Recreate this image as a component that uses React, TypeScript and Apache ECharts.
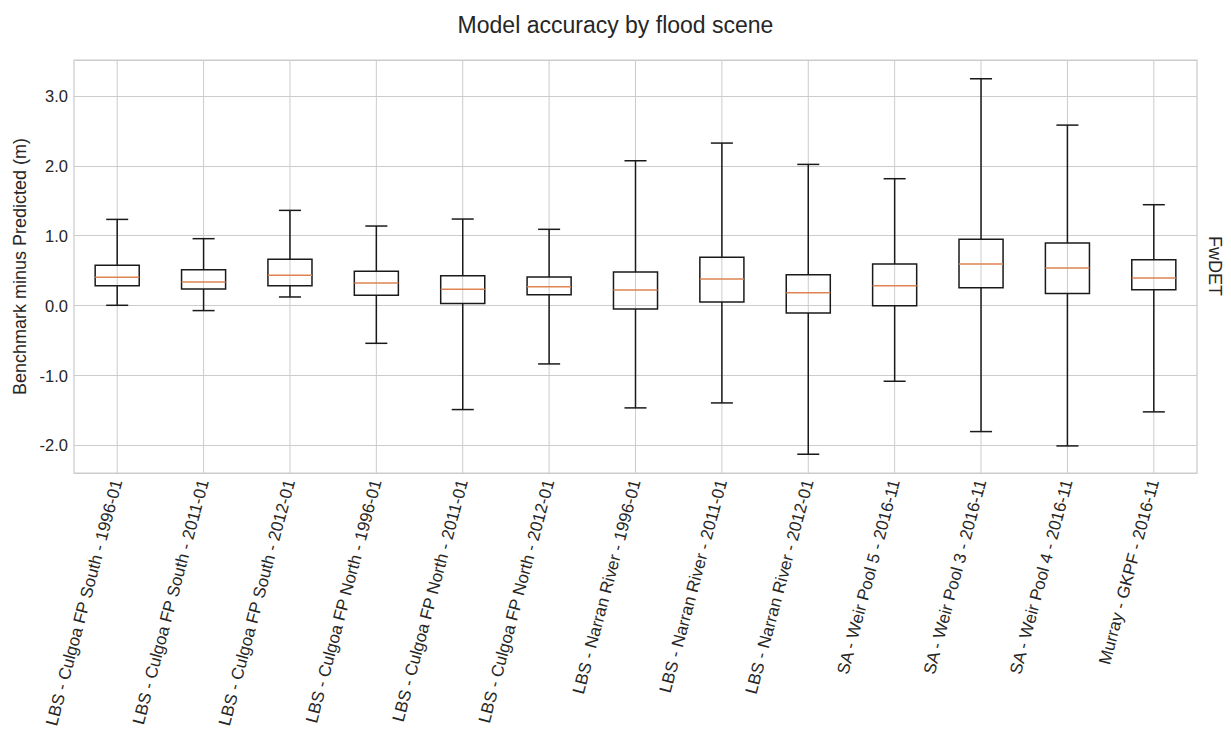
import React, { useEffect, useRef } from "react";
import * as echarts from "echarts";

const categories = [
  "LBS - Culgoa FP South - 1996-01",
  "LBS - Culgoa FP South - 2011-01",
  "LBS - Culgoa FP South - 2012-01",
  "LBS - Culgoa FP North - 1996-01",
  "LBS - Culgoa FP North - 2011-01",
  "LBS - Culgoa FP North - 2012-01",
  "LBS - Narran River - 1996-01",
  "LBS - Narran River - 2011-01",
  "LBS - Narran River - 2012-01",
  "SA - Weir Pool 5 - 2016-11",
  "SA - Weir Pool 3 - 2016-11",
  "SA - Weir Pool 4 - 2016-11",
  "Murray - GKPF - 2016-11",
];

const whiskerLow = [0.005, -0.071, 0.124, -0.539, -1.487, -0.834, -1.463, -1.392, -2.126, -1.082, -1.802, -2.007, -1.52];
const quartile1 = [0.286, 0.238, 0.286, 0.148, 0.029, 0.157, -0.048, 0.052, -0.105, 0.0, 0.257, 0.172, 0.229];
const medians = [0.405, 0.338, 0.434, 0.324, 0.234, 0.272, 0.224, 0.381, 0.186, 0.286, 0.596, 0.539, 0.396];
const quartile3 = [0.577, 0.515, 0.663, 0.491, 0.429, 0.41, 0.481, 0.691, 0.443, 0.596, 0.949, 0.896, 0.658];
const whiskerHigh = [1.234, 0.958, 1.363, 1.139, 1.239, 1.092, 2.073, 2.326, 2.021, 1.816, 3.246, 2.583, 1.444];

const FONT = "'Liberation Sans', Arial, Helvetica, sans-serif";
const TEXT = "#262626";
const GRID = "#cccccc";

export default function App() {
  const ref = useRef<HTMLDivElement>(null);

  useEffect(() => {
    if (!ref.current) return;
    const chart = echarts.init(ref.current, undefined, { renderer: "svg" });

    const rows = categories.map((_, i) => [i, whiskerLow[i], quartile1[i], medians[i], quartile3[i], whiskerHigh[i]]);
    const dMin = Math.min(...whiskerLow);
    const dMax = Math.max(...whiskerHigh);
    const pad = (dMax - dMin) * 0.05;

    chart.setOption({
      animation: false,
      backgroundColor: "#ffffff",
      textStyle: { fontFamily: FONT },
      title: {
        text: "Model accuracy by flood scene",
        left: "center",
        top: 8,
        textStyle: { fontFamily: FONT, fontSize: 23, fontWeight: "normal", color: TEXT },
      },
      grid: {
        left: 74,
        right: 34,
        top: 60,
        bottom: 266,
        show: true,
        borderColor: GRID,
        borderWidth: 1.25,
        backgroundColor: "transparent",
      },
      xAxis: {
        type: "category",
        data: categories,
        boundaryGap: true,
        axisLine: { show: false },
        axisTick: { show: false },
        splitLine: { show: false },
        axisLabel: {
          rotate: 75,
          interval: 0,
          margin: 7,
          color: TEXT,
          fontFamily: FONT,
          fontSize: 17,
        },
      },
      yAxis: {
        type: "value",
        min: dMin - pad,
        max: dMax + pad,
        name: "Benchmark minus Predicted (m)",
        nameLocation: "middle",
        nameGap: 44,
        nameTextStyle: { fontFamily: FONT, fontSize: 18, color: TEXT },
        axisLine: { show: false },
        axisTick: { show: false },
        splitLine: { show: true, lineStyle: { color: GRID, width: 1 } },
        axisLabel: {
          showMinLabel: false,
          showMaxLabel: false,
          margin: 6,
          color: TEXT,
          fontFamily: FONT,
          fontSize: 16.5,
          formatter: (v: number) => v.toFixed(1),
        },
      },
      graphic: [
        {
          type: "text",
          x: 1215,
          y: 266,
          rotation: -Math.PI / 2,
          style: {
            text: "FwDET",
            align: "center",
            verticalAlign: "middle",
            fontFamily: FONT,
            fontSize: 18,
            fill: TEXT,
          },
        },
      ],
      series: [
        {
          type: "custom",
          data: rows,
          encode: { x: 0, y: [1, 2, 3, 4, 5] },
          renderItem: (params: any, api: any) => {
            const idx = api.value(0);
            const pLow = api.coord([idx, api.value(1)]);
            const pQ1 = api.coord([idx, api.value(2)]);
            const pMed = api.coord([idx, api.value(3)]);
            const pQ3 = api.coord([idx, api.value(4)]);
            const pHigh = api.coord([idx, api.value(5)]);
            const band = api.size([1, 0])[0];
            const bw = band * 0.51;
            const cw = band * 0.255;
            const x = pMed[0];
            const cs = params.coordSys;
            const black = { stroke: "#1a1a1a", lineWidth: 1.5, fill: "none" };
            return {
              type: "group",
              children: [
                {
                  type: "line",
                  silent: true,
                  shape: { x1: x, y1: cs.y, x2: x, y2: cs.y + cs.height },
                  style: { stroke: GRID, lineWidth: 1 },
                },
                {
                  type: "line",
                  shape: { x1: x, y1: pQ1[1], x2: x, y2: pLow[1] },
                  style: black,
                },
                {
                  type: "line",
                  shape: { x1: x, y1: pQ3[1], x2: x, y2: pHigh[1] },
                  style: black,
                },
                {
                  type: "line",
                  shape: { x1: x - cw / 2, y1: pLow[1], x2: x + cw / 2, y2: pLow[1] },
                  style: black,
                },
                {
                  type: "line",
                  shape: { x1: x - cw / 2, y1: pHigh[1], x2: x + cw / 2, y2: pHigh[1] },
                  style: black,
                },
                {
                  type: "rect",
                  shape: { x: x - bw / 2, y: pQ3[1], width: bw, height: pQ1[1] - pQ3[1] },
                  style: black,
                },
                {
                  type: "line",
                  shape: { x1: x - bw / 2, y1: pMed[1], x2: x + bw / 2, y2: pMed[1] },
                  style: { stroke: "#dd8452", lineWidth: 1.5 },
                },
              ],
            };
          },
        },
      ],
    });

    return () => chart.dispose();
  }, []);

  return <div ref={ref} style={{ width: 1231, height: 739, position: "absolute", left: 0, top: 0 }} />;
}
